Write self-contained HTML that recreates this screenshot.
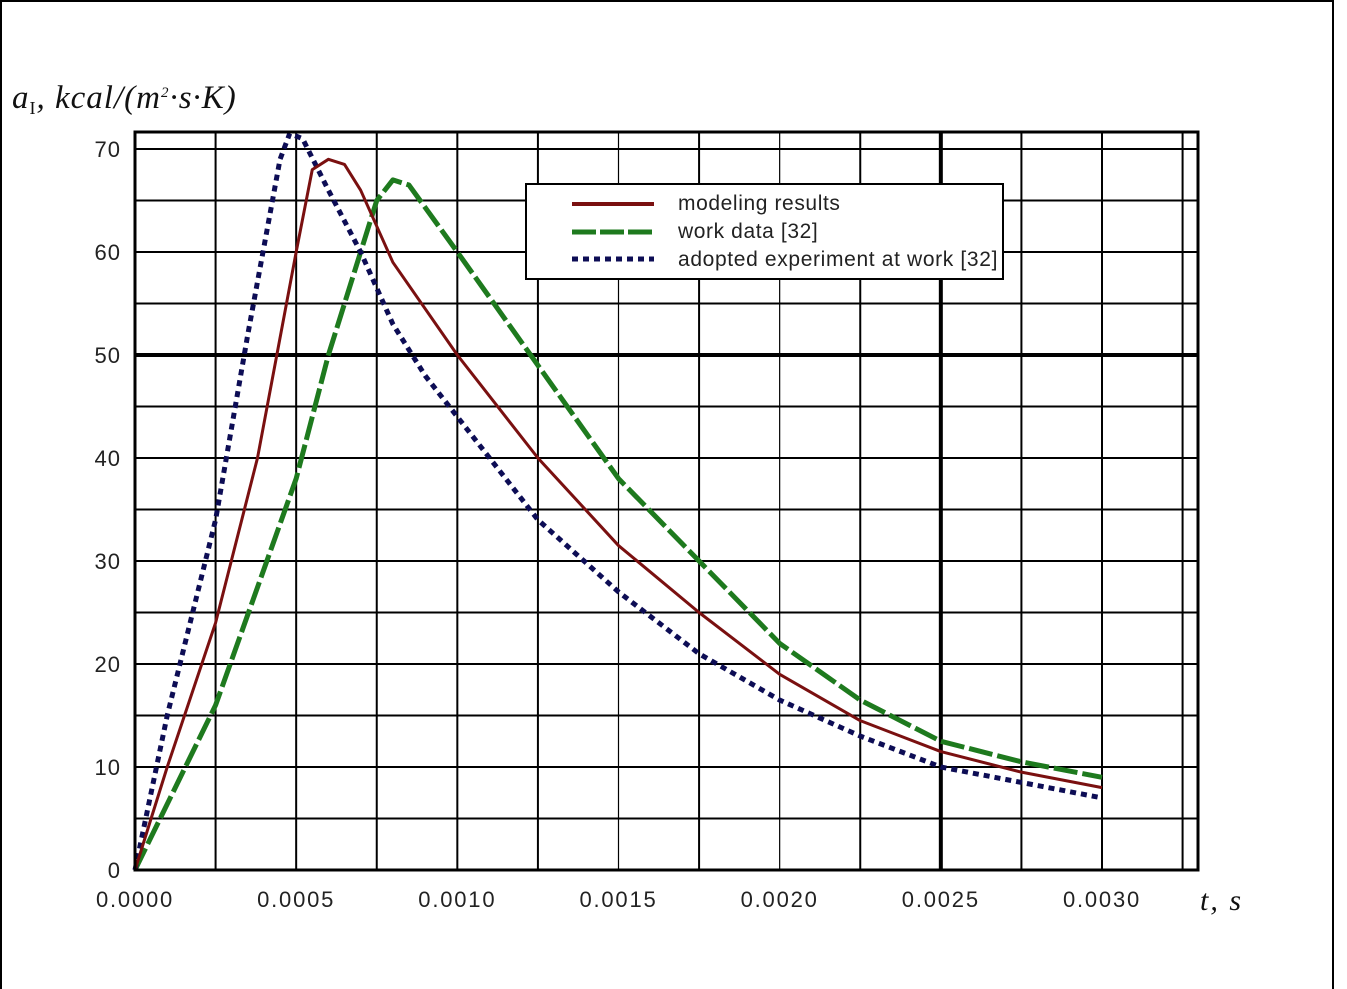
<!DOCTYPE html>
<html><head><meta charset="utf-8">
<style>
html,body{margin:0;padding:0;background:#fff;}
svg{display:block;}
</style></head>
<body>
<svg id="chart" width="1347" height="989" viewBox="0 0 1347 989" xmlns="http://www.w3.org/2000/svg">
<rect x="1" y="1" width="1332" height="1000" fill="#fff" stroke="#000" stroke-width="2"/>
<g id="grid"></g>
<g id="series"></g>
<rect x="135" y="132" width="1063" height="738" fill="none" stroke="#000" stroke-width="3"/>
<g id="yticks" font-family="Liberation Sans, sans-serif" font-size="22" letter-spacing="1" fill="#222" text-anchor="end"></g>
<g id="xticks" font-family="Liberation Sans, sans-serif" font-size="22" letter-spacing="1.8" fill="#222" text-anchor="middle"></g>
<text x="12" y="108" font-family="Liberation Serif, serif" font-style="italic" font-size="33" letter-spacing="1" fill="#111">a<tspan font-size="18" dy="6" font-style="normal">I</tspan><tspan dy="-6">, kcal/(m</tspan><tspan font-size="15" dy="-11">2</tspan><tspan dy="11">·s·K)</tspan></text>
<text x="1200" y="910" font-family="Liberation Serif, serif" font-style="italic" font-size="30" letter-spacing="2" fill="#111">t, s</text>
<g>
<rect x="526" y="184" width="477" height="95" fill="#fff" stroke="#000" stroke-width="2"/>
<line x1="572" y1="204" x2="654" y2="204" stroke="#7a1010" stroke-width="4"/>
<line x1="572" y1="232" x2="654" y2="232" stroke="#1e7a1e" stroke-width="5" stroke-dasharray="24,4"/>
<line x1="572" y1="259" x2="654" y2="259" stroke="#0d0d55" stroke-width="5" stroke-dasharray="6,5"/>
<g font-family="Liberation Sans, sans-serif" font-size="21" letter-spacing="0.6" fill="#222">
<text x="678" y="210">modeling results</text>
<text x="678" y="238">work data [32]</text>
<text x="678" y="266" textLength="320">adopted experiment at work [32]</text>
</g>
</g>
</svg>
<script>
const xTickValues = [0, 0.0005, 0.0010, 0.0015, 0.0020, 0.0025, 0.0030];
const xTickLabels = ["0.0000","0.0005","0.0010","0.0015","0.0020","0.0025","0.0030"];
const yTickValues = [0,10,20,30,40,50,60,70];
const modelT = [0,0.0001,0.00025,0.00038,0.0005,0.00055,0.0006,0.00065,0.0007,0.0008,0.001,0.00125,0.0015,0.00175,0.002,0.00225,0.0025,0.00275,0.003];
const modelV = [0,10,24,40,60,68,69,68.5,66,59,50,40,31.5,25,19,14.5,11.5,9.5,8];
const workT = [0,0.00025,0.0005,0.0006,0.00075,0.0008,0.00085,0.001,0.00125,0.0015,0.00175,0.002,0.00225,0.0025,0.00275,0.003];
const workV = [0,16,38,50,65,67,66.5,60,49,38,30,22,16.5,12.5,10.5,9];
const expT = [0,0.0001,0.00025,0.00035,0.00045,0.00048,0.00052,0.0006,0.0007,0.0008,0.0009,0.001,0.00125,0.0015,0.00175,0.002,0.00225,0.0025,0.00275,0.003];
const expV = [0,15,34,52,69,71.5,71,66,60,53,48,44,34,27,21,16.5,13,10,8.5,7];

const NS="http://www.w3.org/2000/svg";
const X0=135, XPER=(1102-135)/0.003, Y0=870, YPER=(870-149)/70;
function xs(t){return X0+t*XPER;}
function ys(v){return Y0-v*YPER;}
function mk(tag,parent){const e=document.createElementNS(NS,tag);parent.appendChild(e);return e;}

const grid=document.getElementById('grid');
for(let i=1;i<=13;i++){
  const t=i*0.00025, x=xs(t);
  const l=mk('line',grid);
  
  
  l.setAttribute('x1',x);l.setAttribute('x2',x);l.setAttribute('y1',132);l.setAttribute('y2',870);
  l.setAttribute('stroke','#000');l.setAttribute('stroke-width',i===10?4:(i===6||i===8?1.2:2));
}
for(let i=1;i<=14;i++){
  const v=i*5, y=ys(v);
  const l=mk('line',grid);
  
  
  l.setAttribute('x1',135);l.setAttribute('x2',1198);l.setAttribute('y1',y);l.setAttribute('y2',y);
  l.setAttribute('stroke','#000');l.setAttribute('stroke-width',v===50?4:2);
}
const yt=document.getElementById('yticks');
yTickValues.forEach(v=>{
  const t=mk('text',yt);
  
  
  t.setAttribute('x',121);t.setAttribute('y',ys(v)+8);t.textContent=v;
});
const xt=document.getElementById('xticks');
xTickValues.forEach((v,i)=>{
  const t=mk('text',xt);
  
  
  t.setAttribute('x',xs(v));t.setAttribute('y',907);t.textContent=xTickLabels[i];
});
const sg=document.getElementById('series');
function line(T,V,color,w,dash,name){
  const p=mk('polyline',sg);
  
  
  p.setAttribute('points',T.map((t,i)=>xs(t)+','+ys(V[i])).join(' '));
  p.setAttribute('fill','none');p.setAttribute('stroke',color);p.setAttribute('stroke-width',w);
  p.setAttribute('stroke-linejoin','round');
  if(dash)p.setAttribute('stroke-dasharray',dash);
}
line(workT,workV,'#1e7a1e',5,'24,5','work-data-line');
line(expT,expV,'#0d0d55',5,'6,5','experiment-line');
line(modelT,modelV,'#7a1010',3,null,'modeling-results-line');
</script>
</body></html>
